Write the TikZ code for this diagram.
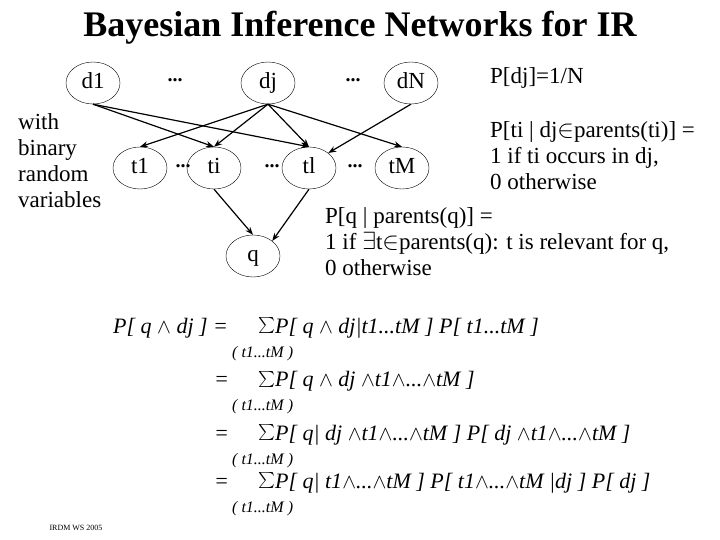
\documentclass[tikz,border=0pt]{standalone}
\usepackage{fontspec}
\usepackage{graphicx}
\setmainfont{Liberation Serif}
\usetikzlibrary{shapes.geometric,arrows.meta}
\newcommand{\W}{$\wedge$}
\newcommand{\Sm}{\raisebox{-1pt}{\scalebox{1.6}{$\sum$}}}
\newcommand{\In}{$\in$}
\newcommand{\Ex}{$\exists$}
\begin{document}
\begin{tikzpicture}[x=1pt,y=-1pt,
  ev/.style={draw,ellipse,minimum width=54pt,minimum height=42pt,inner sep=0pt,text height=15pt,text depth=4pt,font=\fontsize{23}{26}\selectfont},
  arr/.style={-{Stealth[length=8pt,width=6pt]},line width=1.2pt},
  txt/.style={font=\fontsize{23}{26}\selectfont,align=left,inner sep=0pt},
  dots/.style={font=\bfseries\fontsize{20}{20}\selectfont,inner sep=0pt},
  eq/.style={font=\itshape\fontsize{22}{26}\selectfont,anchor=west,inner sep=0pt},
  sub/.style={font=\itshape\fontsize{16}{18}\selectfont,anchor=west,inner sep=0pt}]
\useasboundingbox (0,0) rectangle (720,540);
\node[font=\bfseries\fontsize{36}{40}\selectfont] (title) at (360,28) {Bayesian Inference Networks for IR};
\node[ev] (d1) at (93,83) {d1};
\node[ev] (dj) at (268,83) {dj};
\node[ev] (dN) at (411,83) {dN};
\node[ev] (t1) at (140,168) {t1};
\node[ev] (ti) at (214,168) {ti};
\node[ev] (tl) at (309,168) {tl};
\node[ev] (tM) at (402,168) {tM};
\node[ev] (q) at (253,256) {q};
\node[dots] (o1) at (175,80) {...};
\node[dots] (o2) at (353,80) {...};
\node[dots] (o3) at (183,166) {...};
\node[dots] (o4) at (272,166) {...};
\node[dots] (o5) at (355,166) {...};
\draw[arr] (d1.south) -- (ti.north);
\draw[arr] (d1.south) -- (tl.north);
\draw[arr] (dj.south) -- (t1.north);
\draw[arr] (dj.south) -- (ti.north);
\draw[arr] (dj.south) -- (tl.north);
\draw[arr] (dj.south) -- (tM.north);
\draw[arr] (dN.south) -- (tl.north east);
\draw[arr] (ti.south) -- (q.north);
\draw[arr] (tl.south) -- (q.north east);
\node[txt,anchor=north west] (lab) at (18,113) {with\\binary\\random\\variables};
\node[txt,anchor=west] (pdj) at (490,78) {P[dj]=1/N};
\node[txt,anchor=north west] (pti) at (490,121) {P[ti | dj\In parents(ti)] =\\1 if ti occurs in dj,\\0 otherwise};
\node[txt,anchor=north west] (pq) at (325,207) {P[q | parents(q)] =\\1 if \Ex t\In parents(q): t is relevant for q,\\0 otherwise};
\node[eq] (e0) at (113,328) {P[ q \W\ dj ] =};
\node[eq] (e1) at (258,328) {\Sm P[ q \W\ dj|t1...tM ] P[ t1...tM ]};
\node[sub] (s1) at (232,354) {( t1...tM )};
\node[eq] (q2) at (214,381) {=};
\node[eq] (e2) at (258,381) {\Sm P[ q \W\ dj \W t1\W...\W tM ]};
\node[sub] (s2) at (232,407) {( t1...tM )};
\node[eq] (q3) at (214,435) {=};
\node[eq] (e3) at (258,435) {\Sm P[ q| dj \W t1\W...\W tM ] P[ dj \W t1\W...\W tM ]};
\node[sub] (s3) at (232,461) {( t1...tM )};
\node[eq] (q4) at (214,483) {=};
\node[eq] (e4) at (258,483) {\Sm P[ q| t1\W...\W tM ] P[ t1\W...\W tM |dj ] P[ dj ]};
\node[sub] (s4) at (232,509) {( t1...tM )};
\node[font=\fontsize{8}{9}\selectfont] (foot) at (76,528) {IRDM WS 2005};
\end{tikzpicture}
\end{document}
